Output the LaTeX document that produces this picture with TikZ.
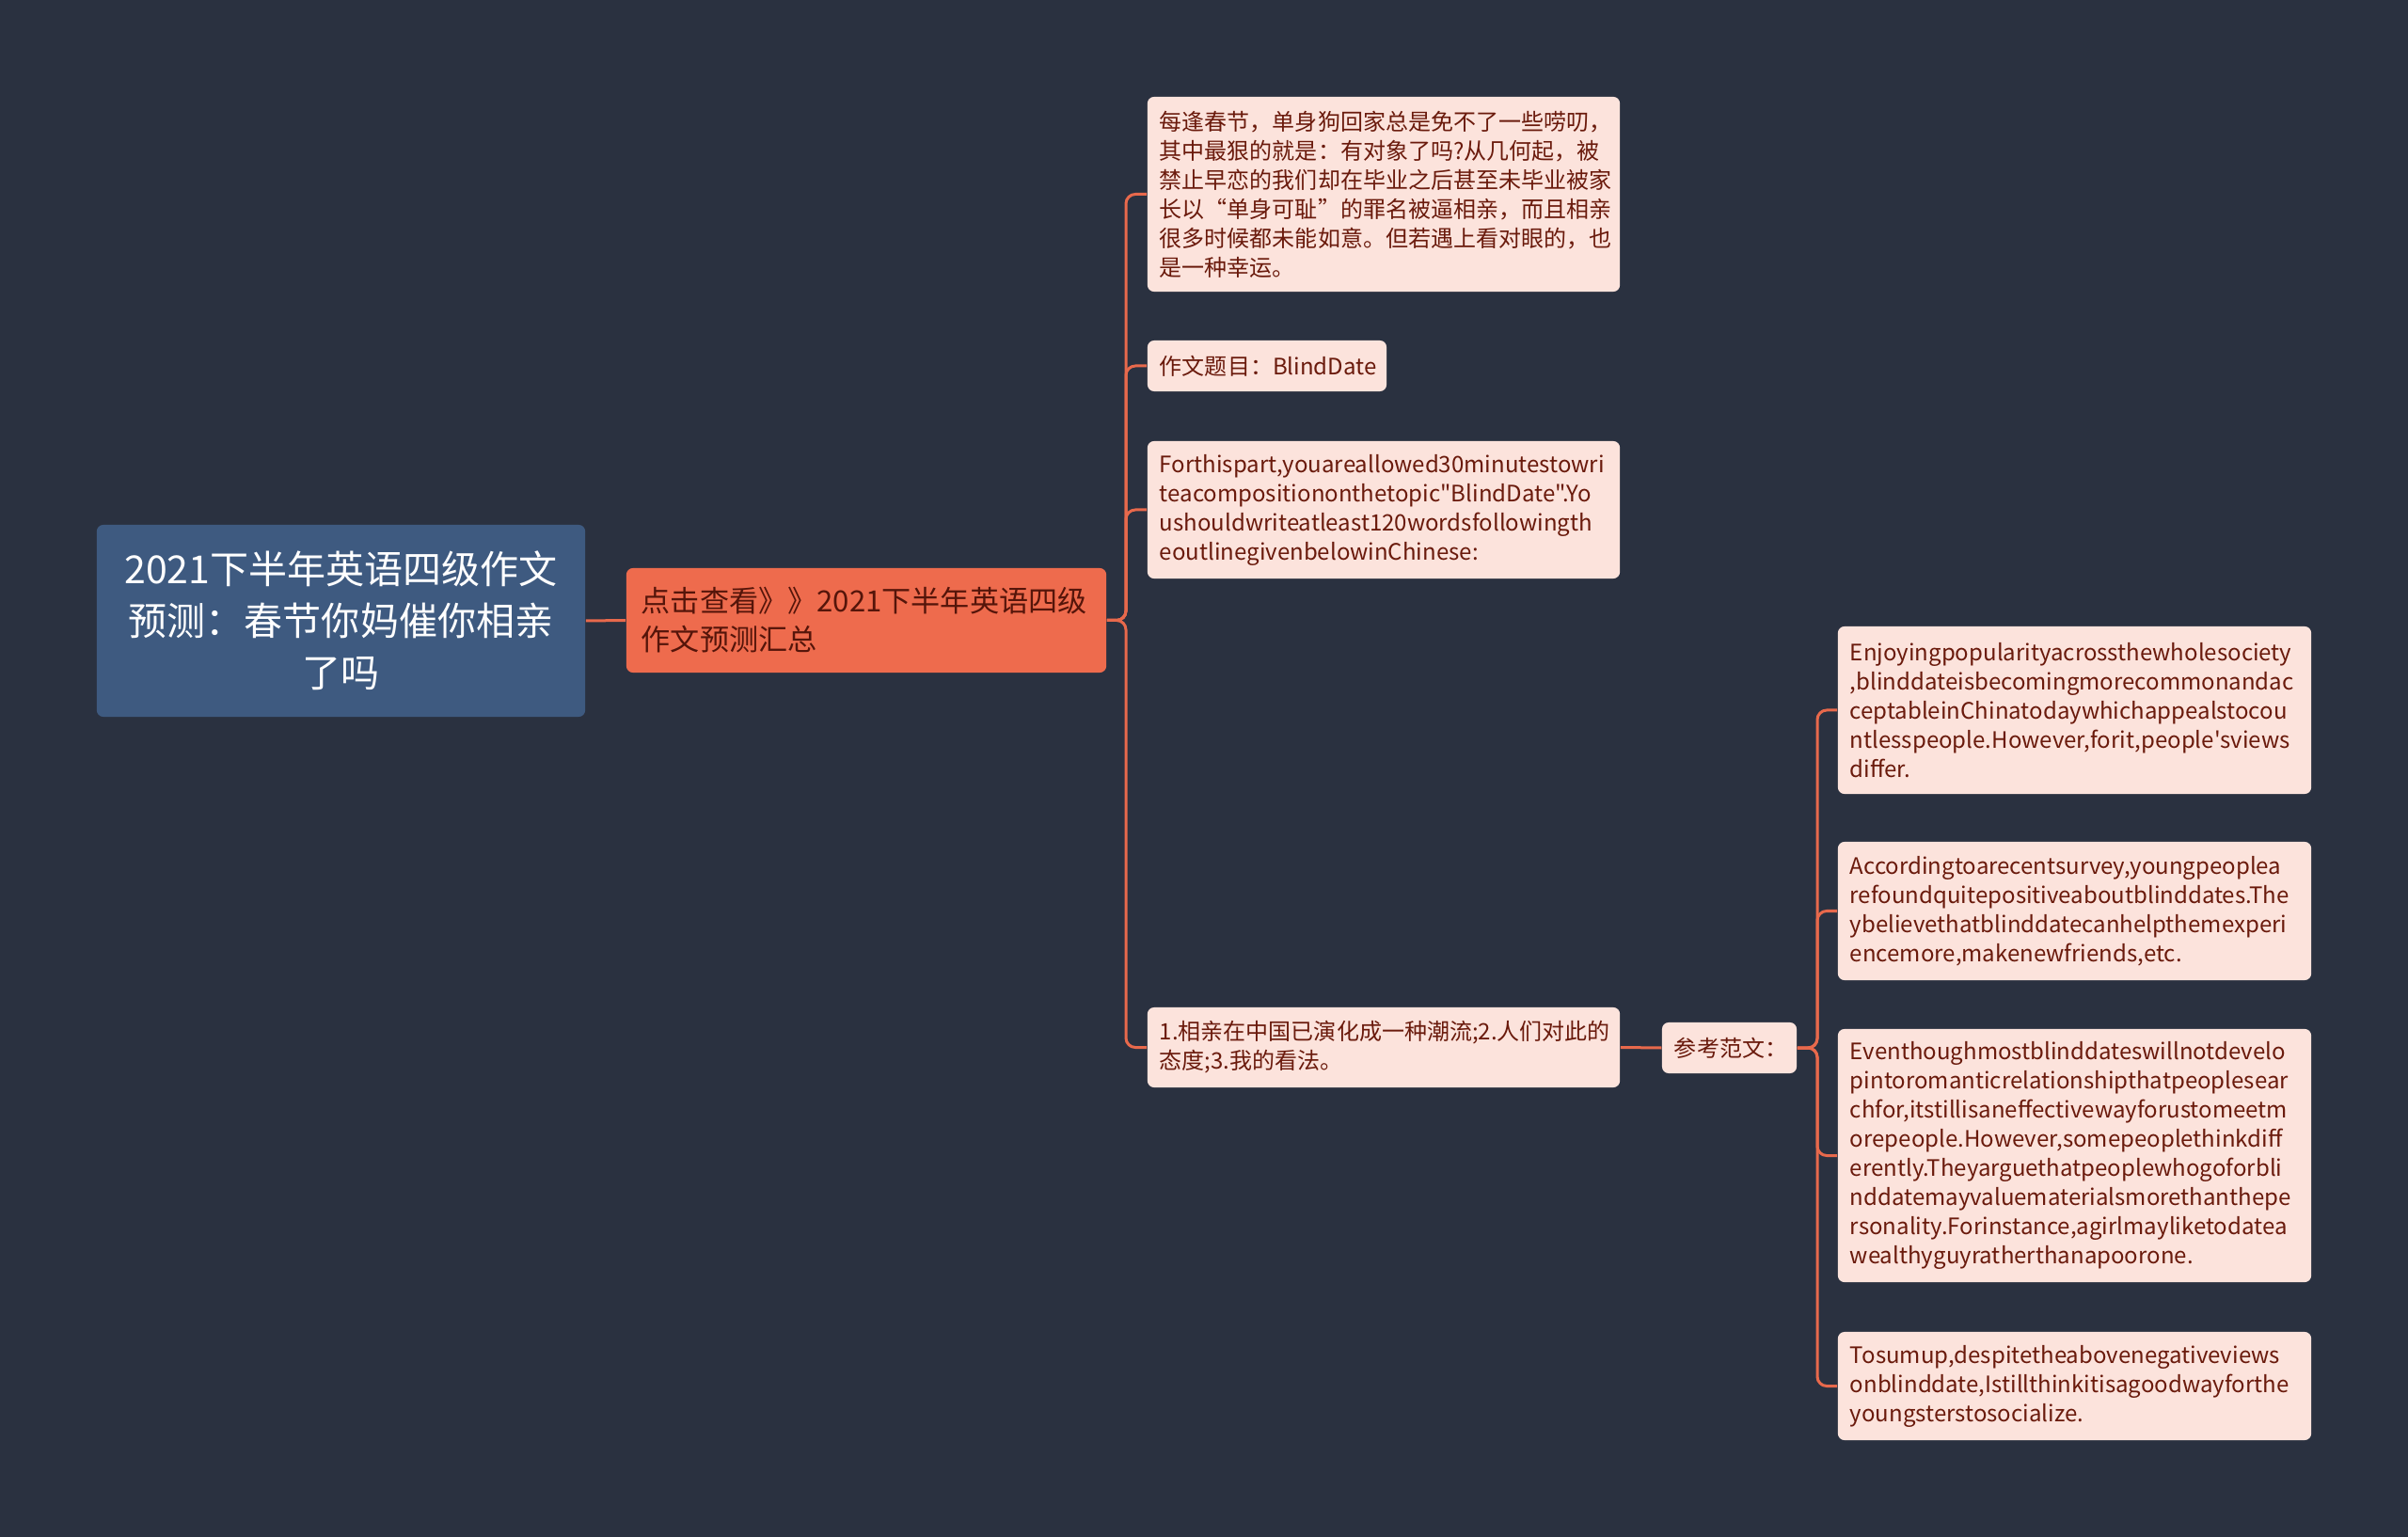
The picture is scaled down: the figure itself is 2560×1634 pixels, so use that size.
\documentclass[tikz,border=0pt]{standalone}
\usepackage{fontspec}
\setmainfont[Ligatures=TeXOff]{Noto Sans CJK SC}
\definecolor{bgc}{HTML}{2A3140}
\definecolor{rootc}{HTML}{3E5A80}
\definecolor{orangec}{HTML}{EE6B4D}
\definecolor{lightc}{HTML}{FCE3DC}
\definecolor{txtc}{HTML}{6A1A0C}
\definecolor{linec}{HTML}{E8694C}
\begin{document}
\begin{tikzpicture}[x=0.01cm,y=-0.01cm,
  rootbox/.style={fill=rootc, rounded corners=0.07cm, text=white, align=center,
    font=\fontsize{11.67pt}{15.65pt}\selectfont, inner sep=0pt},
  mainbox/.style={fill=orangec, rounded corners=0.07cm, text=txtc!80!black, align=left,
    font=\fontsize{8.85pt}{11.67pt}\selectfont, inner xsep=0.16cm, inner ysep=0pt},
  leafbox/.style={fill=lightc, rounded corners=0.07cm, text=txtc, align=left,
    font=\fontsize{6.83pt}{8.82pt}\selectfont, inner xsep=0.13cm, inner ysep=0pt},
  conn/.style={draw=linec, line width=0.03cm, rounded corners=0.1cm}]
\fill[bgc] (0,0) rectangle (2560,1634);
\useasboundingbox (0,0) rectangle (2560,1634);

\node[rootbox, minimum width=5.19cm, minimum height=2.04cm, text width=4.9cm] (root) at (362.5,660)
  {2021下半年英语四级作文\\预测：春节你妈催你相亲\\了吗};
\node[mainbox, minimum width=5.10cm, minimum height=1.11cm, text width=4.78cm] (main) at (921,659.5)
  {点击查看》》2021下半年英语四级\\作文预测汇总};

\node[leafbox, minimum width=5.02cm, minimum height=2.07cm, text width=4.76cm] (c1) at (1471,206.5)
  {每逢春节，单身狗回家总是免不了一些唠叨，\\其中最狠的就是：有对象了吗?从几何起，被\\禁止早恋的我们却在毕业之后甚至未毕业被家\\长以“单身可耻”的罪名被逼相亲，而且相亲\\很多时候都未能如意。但若遇上看对眼的，也\\是一种幸运。};
\node[leafbox, minimum width=2.54cm, minimum height=0.54cm, text width=2.28cm] (c2) at (1347,389)
  {作文题目：BlindDate};
\node[leafbox, minimum width=5.02cm, minimum height=1.46cm, text width=4.76cm] (c3) at (1471,542)
  {Forthispart,youareallowed30minutestowri\\teacompositiononthetopic"BlindDate".Yo\\ushouldwriteatleast120wordsfollowingth\\eoutlinegivenbelowinChinese:};
\node[leafbox, minimum width=5.02cm, minimum height=0.85cm, text width=4.76cm] (c4) at (1471,1113.5)
  {1.相亲在中国已演化成一种潮流;2.人们对此的\\态度;3.我的看法。};
\node[leafbox, minimum width=1.43cm, minimum height=0.54cm, text width=1.17cm] (ref) at (1838.5,1114)
  {参考范文：};

\node[leafbox, minimum width=5.03cm, minimum height=1.78cm, text width=4.77cm] (r1) at (2205.5,755)
  {Enjoyingpopularityacrossthewholesociety\\,blinddateisbecomingmorecommonandac\\ceptableinChinatodaywhichappealstocou\\ntlesspeople.However,forit,people'sviews\\differ.};
\node[leafbox, minimum width=5.03cm, minimum height=1.47cm, text width=4.77cm] (r2) at (2205.5,968.5)
  {Accordingtoarecentsurvey,youngpeoplea\\refoundquitepositiveaboutblinddates.The\\ybelievethatblinddatecanhelpthemexperi\\encemore,makenewfriends,etc.};
\node[leafbox, minimum width=5.03cm, minimum height=2.69cm, text width=4.77cm] (r3) at (2205.5,1228.5)
  {Eventhoughmostblinddateswillnotdevelo\\pintoromanticrelationshipthatpeoplesear\\chfor,itstillisaneffectivewayforustomeetm\\orepeople.However,somepeoplethinkdiff\\erently.Theyarguethatpeoplewhogoforbli\\nddatemayvaluematerialsmorethanthepe\\rsonality.Forinstance,agirlmayliketodatea\\wealthyguyratherthanapoorone.};
\node[leafbox, minimum width=5.03cm, minimum height=1.15cm, text width=4.77cm] (r4) at (2205.5,1473.5)
  {Tosumup,despitetheabovenegativeviews\\onblinddate,Istillthinkitisagoodwayforthe\\youngsterstosocialize.};

\coordinate (t1) at (1197,659.5);
\coordinate (t2) at (1932,1114);

\draw[conn] (root.east) -- (main.west);
\foreach \c in {c1,c2,c3,c4}
  \draw[conn] (main.east) -- (t1) |- (\c.west);
\draw[conn] (c4.east) -- (ref.west);
\foreach \c in {r1,r2,r3,r4}
  \draw[conn] (ref.east) -- (t2) |- (\c.west);
\end{tikzpicture}
\end{document}
